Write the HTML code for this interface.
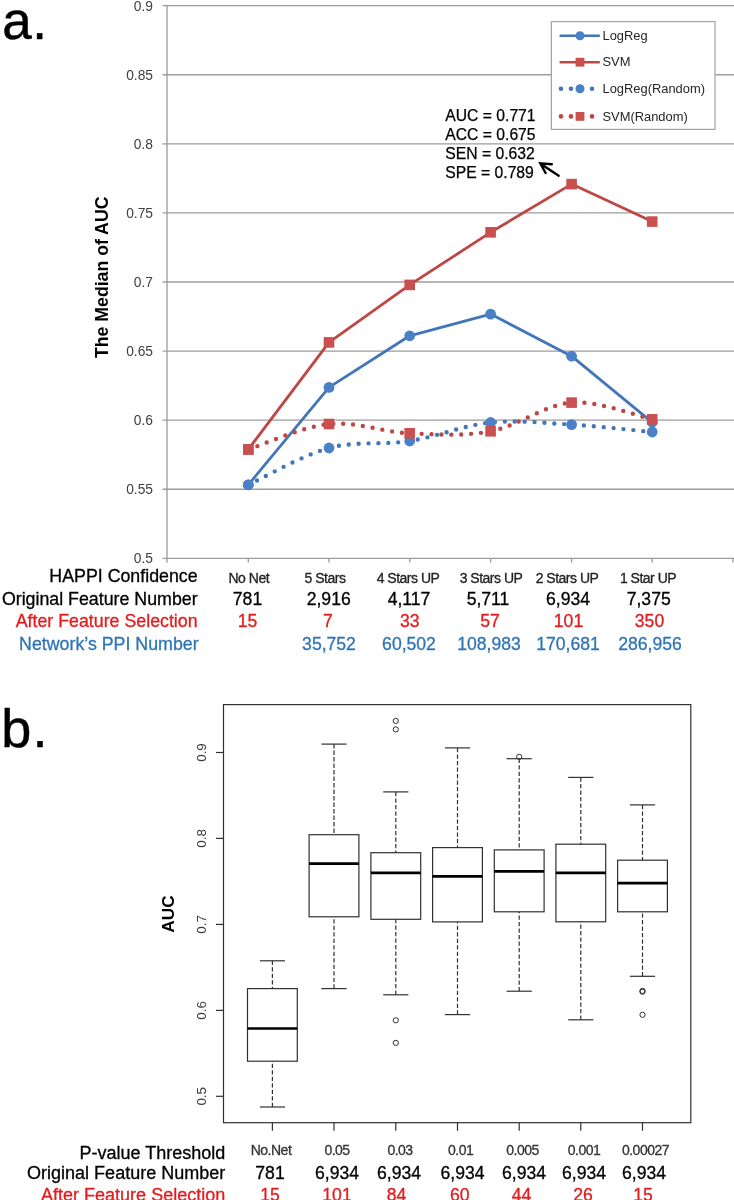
<!DOCTYPE html>
<html><head><meta charset="utf-8"><title>Figure</title>
<style>
html,body{margin:0;padding:0;background:#fff;}
body{width:734px;height:1200px;overflow:hidden;position:relative;font-family:"Liberation Sans",sans-serif;}
svg{position:absolute;left:0;top:0;display:block;will-change:transform;}
text{font-family:"Liberation Sans",sans-serif;}
</style></head><body>
<svg width="734" height="1200" viewBox="0 0 734 1200">
<rect width="734" height="1200" fill="#fff"/>

<g id="panel-a">
<line x1="162.5" y1="5.70" x2="734" y2="5.70" stroke="#9C9C9C" stroke-width="1.33"/>
<text x="153" y="10.6" font-size="13.8" fill="#404040" text-anchor="end">0.9</text>
<line x1="162.5" y1="74.78" x2="734" y2="74.78" stroke="#9C9C9C" stroke-width="1.33"/>
<text x="153" y="79.7" font-size="13.8" fill="#404040" text-anchor="end">0.85</text>
<line x1="162.5" y1="143.86" x2="734" y2="143.86" stroke="#9C9C9C" stroke-width="1.33"/>
<text x="153" y="148.8" font-size="13.8" fill="#404040" text-anchor="end">0.8</text>
<line x1="162.5" y1="212.94" x2="734" y2="212.94" stroke="#9C9C9C" stroke-width="1.33"/>
<text x="153" y="217.8" font-size="13.8" fill="#404040" text-anchor="end">0.75</text>
<line x1="162.5" y1="282.02" x2="734" y2="282.02" stroke="#9C9C9C" stroke-width="1.33"/>
<text x="153" y="286.9" font-size="13.8" fill="#404040" text-anchor="end">0.7</text>
<line x1="162.5" y1="351.10" x2="734" y2="351.10" stroke="#9C9C9C" stroke-width="1.33"/>
<text x="153" y="356.0" font-size="13.8" fill="#404040" text-anchor="end">0.65</text>
<line x1="162.5" y1="420.18" x2="734" y2="420.18" stroke="#9C9C9C" stroke-width="1.33"/>
<text x="153" y="425.1" font-size="13.8" fill="#404040" text-anchor="end">0.6</text>
<line x1="162.5" y1="489.26" x2="734" y2="489.26" stroke="#9C9C9C" stroke-width="1.33"/>
<text x="153" y="494.2" font-size="13.8" fill="#404040" text-anchor="end">0.55</text>
<line x1="162.5" y1="558.34" x2="734" y2="558.34" stroke="#9C9C9C" stroke-width="1.33"/>
<text x="153" y="563.2" font-size="13.8" fill="#404040" text-anchor="end">0.5</text>
<line x1="167" y1="5.04" x2="167" y2="562.64" stroke="#9C9C9C" stroke-width="1.33"/>
<line x1="248.3" y1="558.3" x2="248.3" y2="562.6" stroke="#9C9C9C" stroke-width="1.33"/>
<line x1="329.0" y1="558.3" x2="329.0" y2="562.6" stroke="#9C9C9C" stroke-width="1.33"/>
<line x1="409.7" y1="558.3" x2="409.7" y2="562.6" stroke="#9C9C9C" stroke-width="1.33"/>
<line x1="490.6" y1="558.3" x2="490.6" y2="562.6" stroke="#9C9C9C" stroke-width="1.33"/>
<line x1="571.6" y1="558.3" x2="571.6" y2="562.6" stroke="#9C9C9C" stroke-width="1.33"/>
<line x1="652.2" y1="558.3" x2="652.2" y2="562.6" stroke="#9C9C9C" stroke-width="1.33"/>
<line x1="732.9" y1="558.3" x2="732.9" y2="562.6" stroke="#9C9C9C" stroke-width="1.33"/>
<text transform="translate(107.8,277.3) rotate(-90)" font-size="17.7" font-weight="bold" fill="#000" text-anchor="middle">The Median of AUC</text>
<path d="M248.3,484.8 L329.0,387.4 L409.7,335.8 L490.6,314.1 L571.6,356.2 L652.2,422.3" fill="none" stroke="#4276B9" stroke-width="2.8" stroke-linejoin="round"/>
<circle cx="248.3" cy="484.8" r="5.4" fill="#4A80C6"/>
<circle cx="329.0" cy="387.4" r="5.4" fill="#4A80C6"/>
<circle cx="409.7" cy="335.8" r="5.4" fill="#4A80C6"/>
<circle cx="490.6" cy="314.1" r="5.4" fill="#4A80C6"/>
<circle cx="571.6" cy="356.2" r="5.4" fill="#4A80C6"/>
<circle cx="652.2" cy="422.3" r="5.4" fill="#4A80C6"/>
<path d="M248.3,449.4 L329.0,342.4 L409.7,284.9 L490.6,232.3 L571.6,184.1 L652.2,221.6" fill="none" stroke="#BC4744" stroke-width="2.8" stroke-linejoin="round"/>
<rect x="243.0" y="444.1" width="10.6" height="10.6" fill="#C9504E"/>
<rect x="323.7" y="337.1" width="10.6" height="10.6" fill="#C9504E"/>
<rect x="404.4" y="279.6" width="10.6" height="10.6" fill="#C9504E"/>
<rect x="485.3" y="227.0" width="10.6" height="10.6" fill="#C9504E"/>
<rect x="566.3" y="178.8" width="10.6" height="10.6" fill="#C9504E"/>
<rect x="646.9" y="216.3" width="10.6" height="10.6" fill="#C9504E"/>
<path d="M248.3,484.8 C261.8,478.7 302.1,455.3 329.0,448.0 C355.9,440.7 382.8,445.2 409.7,441.0 C436.6,436.8 463.6,425.2 490.6,422.5 C517.6,419.8 544.7,423.0 571.6,424.6 C598.5,426.2 638.8,430.8 652.2,432.0" fill="none" stroke="#4276B9" stroke-width="4.4" stroke-linecap="round" stroke-dasharray="0 9.9"/>
<circle cx="248.3" cy="484.8" r="5.4" fill="#4A80C6"/>
<circle cx="329.0" cy="448.0" r="5.4" fill="#4A80C6"/>
<circle cx="409.7" cy="441.0" r="5.4" fill="#4A80C6"/>
<circle cx="490.6" cy="422.5" r="5.4" fill="#4A80C6"/>
<circle cx="571.6" cy="424.6" r="5.4" fill="#4A80C6"/>
<circle cx="652.2" cy="432.0" r="5.4" fill="#4A80C6"/>
<path d="M248.3,449.4 C261.8,445.2 302.1,426.7 329.0,424.0 C355.9,421.3 382.8,432.1 409.7,433.3 C436.6,434.5 463.6,436.4 490.6,431.3 C517.6,426.2 544.7,404.6 571.6,402.6 C598.5,400.6 638.8,416.5 652.2,419.3" fill="none" stroke="#BC4744" stroke-width="4.4" stroke-linecap="round" stroke-dasharray="0 9.9"/>
<rect x="243.0" y="444.1" width="10.6" height="10.6" fill="#C9504E"/>
<rect x="323.7" y="418.7" width="10.6" height="10.6" fill="#C9504E"/>
<rect x="404.4" y="428.0" width="10.6" height="10.6" fill="#C9504E"/>
<rect x="485.3" y="426.0" width="10.6" height="10.6" fill="#C9504E"/>
<rect x="566.3" y="397.3" width="10.6" height="10.6" fill="#C9504E"/>
<rect x="646.9" y="414.0" width="10.6" height="10.6" fill="#C9504E"/>
<rect x="551.4" y="21.6" width="163.6" height="107.8" fill="#fff" stroke="#A2A2A2" stroke-width="1.2"/>
<line x1="559.6" y1="35.7" x2="599.8" y2="35.7" stroke="#4276B9" stroke-width="2.6"/><circle cx="580.0" cy="35.7" r="4.5" fill="#4A80C6"/>
<line x1="559.6" y1="62.2" x2="599.8" y2="62.2" stroke="#BC4744" stroke-width="2.6"/><rect x="575.6" y="57.8" width="8.8" height="8.8" fill="#C9504E"/>
<circle cx="561.0" cy="88.8" r="2.3" fill="#4276B9"/>
<circle cx="571.0" cy="88.8" r="2.3" fill="#4276B9"/>
<circle cx="592.0" cy="88.8" r="2.3" fill="#4276B9"/>
<circle cx="561.0" cy="116.4" r="2.3" fill="#BC4744"/>
<circle cx="571.0" cy="116.4" r="2.3" fill="#BC4744"/>
<circle cx="592.0" cy="116.4" r="2.3" fill="#BC4744"/>
<circle cx="580.0" cy="88.8" r="4.5" fill="#4A80C6"/>
<rect x="575.6" y="112.0" width="8.8" height="8.8" fill="#C9504E"/>
<text x="602.5" y="39.9" font-size="12.9" fill="#262626">LogReg</text>
<text x="602.5" y="66.4" font-size="12.9" fill="#262626">SVM</text>
<text x="602.5" y="93.0" font-size="12.9" fill="#262626">LogReg(Random)</text>
<text x="602.5" y="120.6" font-size="12.9" fill="#262626">SVM(Random)</text>
<text x="445.3" y="121.2" font-size="15.7" fill="#000" stroke="#000" stroke-width="0.25">AUC = 0.771</text>
<text x="445.3" y="140.0" font-size="15.7" fill="#000" stroke="#000" stroke-width="0.25">ACC = 0.675</text>
<text x="445.3" y="158.8" font-size="15.7" fill="#000" stroke="#000" stroke-width="0.25">SEN = 0.632</text>
<text x="445.3" y="177.5" font-size="15.7" fill="#000" stroke="#000" stroke-width="0.25">SPE = 0.789</text>
<path d="M558.7,175.7 L541,163.9 M551.8,164.3 L540.3,163.4 L545.6,173" fill="none" stroke="#000" stroke-width="2.4" stroke-linecap="round" stroke-linejoin="miter"/>
<text x="2.3" y="39" font-size="53" fill="#000" stroke="#000" stroke-width="0.5" letter-spacing="0.5">a.</text>
<text x="197.6" y="581.7" font-size="17.8" fill="#000" stroke="#000" stroke-width="0.3" text-anchor="end">HAPPI Confidence</text>
<text x="197.6" y="605" font-size="17.8" fill="#000" stroke="#000" stroke-width="0.3" text-anchor="end">Original Feature Number</text>
<text x="197.6" y="626.6" font-size="17.8" fill="#E41A1C" stroke="#E41A1C" stroke-width="0.3" text-anchor="end">After Feature Selection</text>
<text x="198.6" y="650" font-size="17.8" fill="#2E75B6" stroke="#2E75B6" stroke-width="0.3" text-anchor="end">Network’s PPI Number</text>
<text x="248.8" y="582.9" font-size="14" fill="#222" stroke="#222" stroke-width="0.3" text-anchor="middle" letter-spacing="-0.5">No Net</text>
<text x="325" y="582.9" font-size="14" fill="#222" stroke="#222" stroke-width="0.3" text-anchor="middle" letter-spacing="-0.5">5 Stars</text>
<text x="408" y="582.9" font-size="14" fill="#222" stroke="#222" stroke-width="0.3" text-anchor="middle" letter-spacing="-0.5">4 Stars UP</text>
<text x="491" y="582.9" font-size="14" fill="#222" stroke="#222" stroke-width="0.3" text-anchor="middle" letter-spacing="-0.5">3 Stars UP</text>
<text x="567" y="582.9" font-size="14" fill="#222" stroke="#222" stroke-width="0.3" text-anchor="middle" letter-spacing="-0.5">2 Stars UP</text>
<text x="648" y="582.9" font-size="14" fill="#222" stroke="#222" stroke-width="0.3" text-anchor="middle" letter-spacing="-0.5">1 Star UP</text>
<text x="247.5" y="605" font-size="17.6" fill="#000" stroke="#000" stroke-width="0.3" text-anchor="middle">781</text>
<text x="328.7" y="605" font-size="17.6" fill="#000" stroke="#000" stroke-width="0.3" text-anchor="middle">2,916</text>
<text x="409" y="605" font-size="17.6" fill="#000" stroke="#000" stroke-width="0.3" text-anchor="middle">4,117</text>
<text x="488" y="605" font-size="17.6" fill="#000" stroke="#000" stroke-width="0.3" text-anchor="middle">5,711</text>
<text x="568" y="605" font-size="17.6" fill="#000" stroke="#000" stroke-width="0.3" text-anchor="middle">6,934</text>
<text x="648.7" y="605" font-size="17.6" fill="#000" stroke="#000" stroke-width="0.3" text-anchor="middle">7,375</text>
<text x="247.5" y="626.6" font-size="17.6" fill="#E41A1C" stroke="#E41A1C" stroke-width="0.3" text-anchor="middle">15</text>
<text x="328" y="626.6" font-size="17.6" fill="#E41A1C" stroke="#E41A1C" stroke-width="0.3" text-anchor="middle">7</text>
<text x="409.7" y="626.6" font-size="17.6" fill="#E41A1C" stroke="#E41A1C" stroke-width="0.3" text-anchor="middle">33</text>
<text x="490" y="626.6" font-size="17.6" fill="#E41A1C" stroke="#E41A1C" stroke-width="0.3" text-anchor="middle">57</text>
<text x="568.5" y="626.6" font-size="17.6" fill="#E41A1C" stroke="#E41A1C" stroke-width="0.3" text-anchor="middle">101</text>
<text x="649.5" y="626.6" font-size="17.6" fill="#E41A1C" stroke="#E41A1C" stroke-width="0.3" text-anchor="middle">350</text>
<text x="329" y="650" font-size="17.6" fill="#2E75B6" stroke="#2E75B6" stroke-width="0.3" text-anchor="middle">35,752</text>
<text x="409" y="650" font-size="17.6" fill="#2E75B6" stroke="#2E75B6" stroke-width="0.3" text-anchor="middle">60,502</text>
<text x="489" y="650" font-size="17.6" fill="#2E75B6" stroke="#2E75B6" stroke-width="0.3" text-anchor="middle">108,983</text>
<text x="568" y="650" font-size="17.6" fill="#2E75B6" stroke="#2E75B6" stroke-width="0.3" text-anchor="middle">170,681</text>
<text x="650" y="650" font-size="17.6" fill="#2E75B6" stroke="#2E75B6" stroke-width="0.3" text-anchor="middle">286,956</text>
</g>
<g id="panel-b">
<text x="1.2" y="746.6" font-size="54" fill="#000" stroke="#000" stroke-width="0.5" letter-spacing="1.3">b.</text>
<rect x="223.5" y="704.6" width="467.3" height="418.1" fill="none" stroke="#303030" stroke-width="1.2"/>
<line x1="216" y1="1096.3" x2="223.5" y2="1096.3" stroke="#303030" stroke-width="1.2"/>
<text transform="translate(205.6,1096.3) rotate(-90)" font-size="13.4" fill="#3A3A3A" text-anchor="middle">0.5</text>
<line x1="216" y1="1010.4" x2="223.5" y2="1010.4" stroke="#303030" stroke-width="1.2"/>
<text transform="translate(205.6,1010.4) rotate(-90)" font-size="13.4" fill="#3A3A3A" text-anchor="middle">0.6</text>
<line x1="216" y1="924.4" x2="223.5" y2="924.4" stroke="#303030" stroke-width="1.2"/>
<text transform="translate(205.6,924.4) rotate(-90)" font-size="13.4" fill="#3A3A3A" text-anchor="middle">0.7</text>
<line x1="216" y1="838.4" x2="223.5" y2="838.4" stroke="#303030" stroke-width="1.2"/>
<text transform="translate(205.6,838.4) rotate(-90)" font-size="13.4" fill="#3A3A3A" text-anchor="middle">0.8</text>
<line x1="216" y1="752.5" x2="223.5" y2="752.5" stroke="#303030" stroke-width="1.2"/>
<text transform="translate(205.6,752.5) rotate(-90)" font-size="13.4" fill="#3A3A3A" text-anchor="middle">0.9</text>
<text transform="translate(174.4,914) rotate(-90)" font-size="17.2" font-weight="bold" fill="#000" text-anchor="middle">AUC</text>
<line x1="272.4" y1="960.8" x2="272.4" y2="988.6" stroke="#303030" stroke-width="1.2" stroke-dasharray="4.3 2.2"/>
<line x1="272.4" y1="1107.0" x2="272.4" y2="1061.2" stroke="#303030" stroke-width="1.2" stroke-dasharray="4.3 2.2"/>
<line x1="259.79999999999995" y1="960.8" x2="285.0" y2="960.8" stroke="#303030" stroke-width="1.2"/>
<line x1="259.79999999999995" y1="1107.0" x2="285.0" y2="1107.0" stroke="#303030" stroke-width="1.2"/>
<rect x="247.5" y="988.6" width="49.8" height="72.6" fill="none" stroke="#303030" stroke-width="1.2"/>
<line x1="247.5" y1="1028.5" x2="297.3" y2="1028.5" stroke="#000" stroke-width="2.7"/>
<line x1="272.4" y1="1122.7" x2="272.4" y2="1130.8" stroke="#303030" stroke-width="1.2"/>
<line x1="334.0" y1="744.1" x2="334.0" y2="834.7" stroke="#303030" stroke-width="1.2" stroke-dasharray="4.3 2.2"/>
<line x1="334.0" y1="988.6" x2="334.0" y2="916.8" stroke="#303030" stroke-width="1.2" stroke-dasharray="4.3 2.2"/>
<line x1="321.4" y1="744.1" x2="346.6" y2="744.1" stroke="#303030" stroke-width="1.2"/>
<line x1="321.4" y1="988.6" x2="346.6" y2="988.6" stroke="#303030" stroke-width="1.2"/>
<rect x="309.1" y="834.7" width="49.8" height="82.1" fill="none" stroke="#303030" stroke-width="1.2"/>
<line x1="309.1" y1="863.6" x2="358.9" y2="863.6" stroke="#000" stroke-width="2.7"/>
<line x1="334.0" y1="1122.7" x2="334.0" y2="1130.8" stroke="#303030" stroke-width="1.2"/>
<line x1="395.8" y1="791.9" x2="395.8" y2="852.7" stroke="#303030" stroke-width="1.2" stroke-dasharray="4.3 2.2"/>
<line x1="395.8" y1="994.8" x2="395.8" y2="919.3" stroke="#303030" stroke-width="1.2" stroke-dasharray="4.3 2.2"/>
<line x1="383.2" y1="791.9" x2="408.40000000000003" y2="791.9" stroke="#303030" stroke-width="1.2"/>
<line x1="383.2" y1="994.8" x2="408.40000000000003" y2="994.8" stroke="#303030" stroke-width="1.2"/>
<rect x="370.9" y="852.7" width="49.8" height="66.6" fill="none" stroke="#303030" stroke-width="1.2"/>
<line x1="370.9" y1="872.9" x2="420.7" y2="872.9" stroke="#000" stroke-width="2.7"/>
<circle cx="395.8" cy="720.9" r="2.6" fill="none" stroke="#303030" stroke-width="1"/>
<circle cx="395.8" cy="729.4" r="2.6" fill="none" stroke="#303030" stroke-width="1"/>
<circle cx="395.8" cy="1020.3" r="2.6" fill="none" stroke="#303030" stroke-width="1"/>
<circle cx="395.8" cy="1042.9" r="2.6" fill="none" stroke="#303030" stroke-width="1"/>
<line x1="395.8" y1="1122.7" x2="395.8" y2="1130.8" stroke="#303030" stroke-width="1.2"/>
<line x1="457.5" y1="747.9" x2="457.5" y2="847.6" stroke="#303030" stroke-width="1.2" stroke-dasharray="4.3 2.2"/>
<line x1="457.5" y1="1014.6" x2="457.5" y2="921.9" stroke="#303030" stroke-width="1.2" stroke-dasharray="4.3 2.2"/>
<line x1="444.9" y1="747.9" x2="470.1" y2="747.9" stroke="#303030" stroke-width="1.2"/>
<line x1="444.9" y1="1014.6" x2="470.1" y2="1014.6" stroke="#303030" stroke-width="1.2"/>
<rect x="432.6" y="847.6" width="49.8" height="74.3" fill="none" stroke="#303030" stroke-width="1.2"/>
<line x1="432.6" y1="876.4" x2="482.4" y2="876.4" stroke="#000" stroke-width="2.7"/>
<line x1="457.5" y1="1122.7" x2="457.5" y2="1130.8" stroke="#303030" stroke-width="1.2"/>
<line x1="519.2" y1="758.7" x2="519.2" y2="849.9" stroke="#303030" stroke-width="1.2" stroke-dasharray="4.3 2.2"/>
<line x1="519.2" y1="991.2" x2="519.2" y2="911.8" stroke="#303030" stroke-width="1.2" stroke-dasharray="4.3 2.2"/>
<line x1="506.6" y1="758.7" x2="531.8000000000001" y2="758.7" stroke="#303030" stroke-width="1.2"/>
<line x1="506.6" y1="991.2" x2="531.8000000000001" y2="991.2" stroke="#303030" stroke-width="1.2"/>
<rect x="494.3" y="849.9" width="49.8" height="61.9" fill="none" stroke="#303030" stroke-width="1.2"/>
<line x1="494.3" y1="871.3" x2="544.1" y2="871.3" stroke="#000" stroke-width="2.7"/>
<circle cx="519.2" cy="756.8" r="2.6" fill="none" stroke="#303030" stroke-width="1"/>
<line x1="519.2" y1="1122.7" x2="519.2" y2="1130.8" stroke="#303030" stroke-width="1.2"/>
<line x1="580.8" y1="777.4" x2="580.8" y2="844.2" stroke="#303030" stroke-width="1.2" stroke-dasharray="4.3 2.2"/>
<line x1="580.8" y1="1019.8" x2="580.8" y2="921.8" stroke="#303030" stroke-width="1.2" stroke-dasharray="4.3 2.2"/>
<line x1="568.1999999999999" y1="777.4" x2="593.4" y2="777.4" stroke="#303030" stroke-width="1.2"/>
<line x1="568.1999999999999" y1="1019.8" x2="593.4" y2="1019.8" stroke="#303030" stroke-width="1.2"/>
<rect x="555.9" y="844.2" width="49.8" height="77.6" fill="none" stroke="#303030" stroke-width="1.2"/>
<line x1="555.9" y1="872.8" x2="605.7" y2="872.8" stroke="#000" stroke-width="2.7"/>
<line x1="580.8" y1="1122.7" x2="580.8" y2="1130.8" stroke="#303030" stroke-width="1.2"/>
<line x1="642.5" y1="804.9" x2="642.5" y2="860.2" stroke="#303030" stroke-width="1.2" stroke-dasharray="4.3 2.2"/>
<line x1="642.5" y1="976.3" x2="642.5" y2="911.8" stroke="#303030" stroke-width="1.2" stroke-dasharray="4.3 2.2"/>
<line x1="629.9" y1="804.9" x2="655.1" y2="804.9" stroke="#303030" stroke-width="1.2"/>
<line x1="629.9" y1="976.3" x2="655.1" y2="976.3" stroke="#303030" stroke-width="1.2"/>
<rect x="617.6" y="860.2" width="49.8" height="51.6" fill="none" stroke="#303030" stroke-width="1.2"/>
<line x1="617.6" y1="883.1" x2="667.4" y2="883.1" stroke="#000" stroke-width="2.7"/>
<circle cx="642.5" cy="990.8" r="2.6" fill="none" stroke="#303030" stroke-width="1"/>
<circle cx="642.5" cy="991.8" r="2.6" fill="none" stroke="#303030" stroke-width="1"/>
<circle cx="642.5" cy="1014.8" r="2.6" fill="none" stroke="#303030" stroke-width="1"/>
<line x1="642.5" y1="1122.7" x2="642.5" y2="1130.8" stroke="#303030" stroke-width="1.2"/>
<text x="225.2" y="1158.5" font-size="18" fill="#000" stroke="#000" stroke-width="0.3" text-anchor="end">P-value Threshold</text>
<text x="225.2" y="1179" font-size="18" fill="#000" stroke="#000" stroke-width="0.3" text-anchor="end">Original Feature Number</text>
<text x="225.2" y="1200.5" font-size="18" fill="#E41A1C" stroke="#E41A1C" stroke-width="0.3" text-anchor="end">After Feature Selection</text>
<text x="271" y="1155.3" font-size="14" fill="#333" stroke="#333" stroke-width="0.3" text-anchor="middle" letter-spacing="-0.5">No.Net</text>
<text x="337" y="1155.3" font-size="14" fill="#333" stroke="#333" stroke-width="0.3" text-anchor="middle" letter-spacing="-0.5">0.05</text>
<text x="400" y="1155.3" font-size="14" fill="#333" stroke="#333" stroke-width="0.3" text-anchor="middle" letter-spacing="-0.5">0.03</text>
<text x="460.7" y="1155.3" font-size="14" fill="#333" stroke="#333" stroke-width="0.3" text-anchor="middle" letter-spacing="-0.5">0.01</text>
<text x="522.5" y="1155.3" font-size="14" fill="#333" stroke="#333" stroke-width="0.3" text-anchor="middle" letter-spacing="-0.5">0.005</text>
<text x="584" y="1155.3" font-size="14" fill="#333" stroke="#333" stroke-width="0.3" text-anchor="middle" letter-spacing="-0.5">0.001</text>
<text x="645.5" y="1155.3" font-size="14" fill="#333" stroke="#333" stroke-width="0.3" text-anchor="middle" letter-spacing="-0.5">0.00027</text>
<text x="270" y="1179" font-size="17.6" fill="#000" stroke="#000" stroke-width="0.3" text-anchor="middle">781</text>
<text x="337" y="1179" font-size="17.6" fill="#000" stroke="#000" stroke-width="0.3" text-anchor="middle">6,934</text>
<text x="399" y="1179" font-size="17.6" fill="#000" stroke="#000" stroke-width="0.3" text-anchor="middle">6,934</text>
<text x="462.5" y="1179" font-size="17.6" fill="#000" stroke="#000" stroke-width="0.3" text-anchor="middle">6,934</text>
<text x="524" y="1179" font-size="17.6" fill="#000" stroke="#000" stroke-width="0.3" text-anchor="middle">6,934</text>
<text x="584" y="1179" font-size="17.6" fill="#000" stroke="#000" stroke-width="0.3" text-anchor="middle">6,934</text>
<text x="644" y="1179" font-size="17.6" fill="#000" stroke="#000" stroke-width="0.3" text-anchor="middle">6,934</text>
<text x="270" y="1200.5" font-size="17.6" fill="#E41A1C" stroke="#E41A1C" stroke-width="0.3" text-anchor="middle">15</text>
<text x="337" y="1200.5" font-size="17.6" fill="#E41A1C" stroke="#E41A1C" stroke-width="0.3" text-anchor="middle">101</text>
<text x="396.5" y="1200.5" font-size="17.6" fill="#E41A1C" stroke="#E41A1C" stroke-width="0.3" text-anchor="middle">84</text>
<text x="459.7" y="1200.5" font-size="17.6" fill="#E41A1C" stroke="#E41A1C" stroke-width="0.3" text-anchor="middle">60</text>
<text x="521.5" y="1200.5" font-size="17.6" fill="#E41A1C" stroke="#E41A1C" stroke-width="0.3" text-anchor="middle">44</text>
<text x="583" y="1200.5" font-size="17.6" fill="#E41A1C" stroke="#E41A1C" stroke-width="0.3" text-anchor="middle">26</text>
<text x="643" y="1200.5" font-size="17.6" fill="#E41A1C" stroke="#E41A1C" stroke-width="0.3" text-anchor="middle">15</text>
</g>
</svg></body></html>
